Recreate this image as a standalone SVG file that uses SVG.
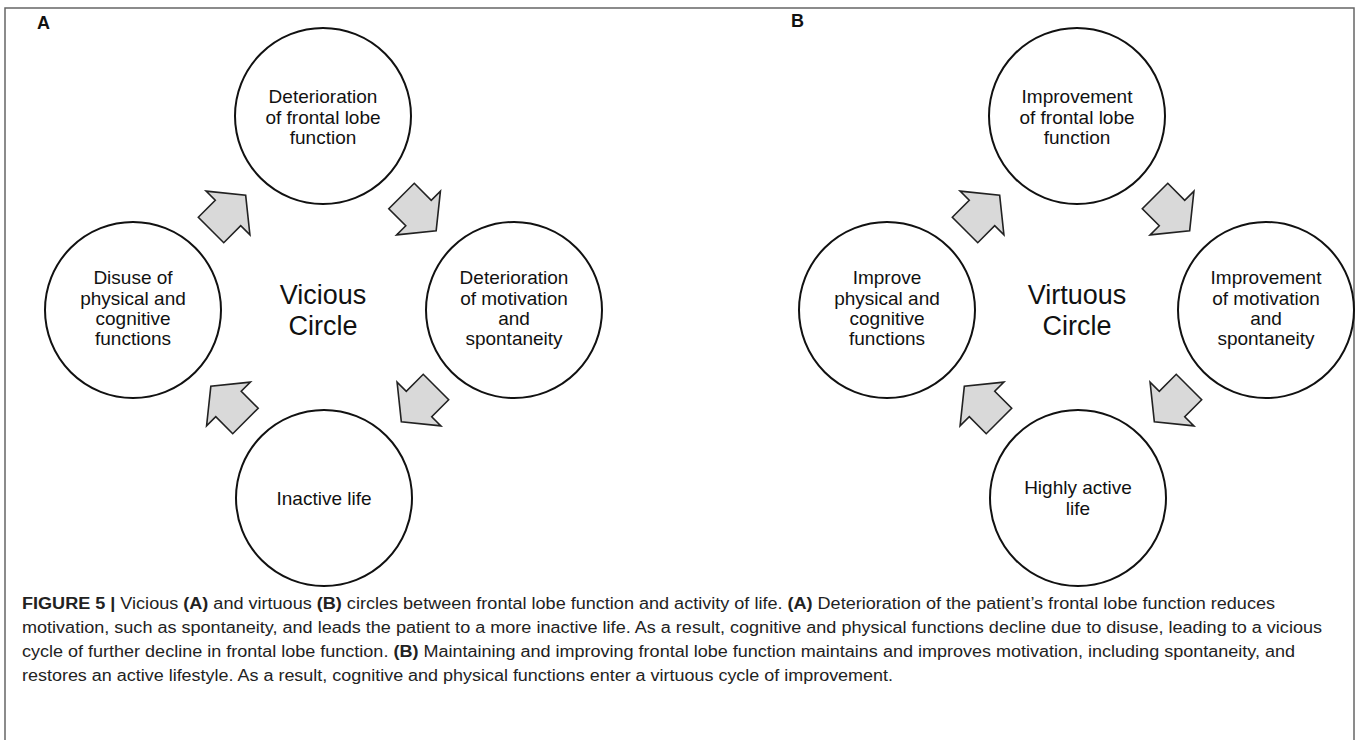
<svg xmlns="http://www.w3.org/2000/svg" xmlns:xlink="http://www.w3.org/1999/xlink" width="1357" height="740" viewBox="0 0 1357 740">
<style>
.c{fill:#fff;stroke:#111;stroke-width:2}
.t{font-family:"Liberation Sans",Arial,sans-serif;font-size:19px;fill:#111;text-anchor:middle}
.big{font-family:"Liberation Sans",Arial,sans-serif;font-size:27px;fill:#111;text-anchor:middle}
.lab{font-family:"Liberation Sans",Arial,sans-serif;font-size:18px;font-weight:bold;fill:#111}
.cap{font-family:"Liberation Sans Narrow","Liberation Sans",Arial,sans-serif;font-size:16px;fill:#222}
.b{font-weight:bold}
.arr{fill:#d9d9d9;stroke:#222;stroke-width:1.6;stroke-linejoin:miter}
</style>
<defs>
<polygon id="arrow" points="-24,-18 0,-18 0,-31 25,0 0,31 0,18 -24,18"/>
</defs>
<rect x="5" y="8" width="1349" height="760" fill="#fff" stroke="#666" stroke-width="1.5"/>
<text class="lab" x="37" y="29">A</text>
<text class="lab" x="791" y="27">B</text>

<g id="a-top"><circle class="c" cx="323" cy="116" r="88"/>
<text class="t" x="323" y="103">Deterioration</text><text class="t" x="323" y="124">of frontal lobe</text><text class="t" x="323" y="144">function</text></g>
<g id="a-right"><circle class="c" cx="514" cy="310" r="88"/>
<text class="t" x="514" y="284">Deterioration</text><text class="t" x="514" y="305">of motivation</text><text class="t" x="514" y="325">and</text><text class="t" x="514" y="345">spontaneity</text></g>
<g id="a-bottom"><circle class="c" cx="324" cy="498" r="88"/>
<text class="t" x="324" y="505">Inactive life</text></g>
<g id="a-left"><circle class="c" cx="133" cy="310" r="88"/>
<text class="t" x="133" y="284">Disuse of</text><text class="t" x="133" y="305">physical and</text><text class="t" x="133" y="325">cognitive</text><text class="t" x="133" y="345">functions</text></g>
<g id="a-center"><text class="big" x="323" y="304">Vicious</text><text class="big" x="323" y="335">Circle</text></g>

<g id="b-top"><circle class="c" cx="1077" cy="116" r="88"/>
<text class="t" x="1077" y="103">Improvement</text><text class="t" x="1077" y="124">of frontal lobe</text><text class="t" x="1077" y="144">function</text></g>
<g id="b-right"><circle class="c" cx="1266" cy="310" r="88"/>
<text class="t" x="1266" y="284">Improvement</text><text class="t" x="1266" y="305">of motivation</text><text class="t" x="1266" y="325">and</text><text class="t" x="1266" y="345">spontaneity</text></g>
<g id="b-bottom"><circle class="c" cx="1078" cy="498" r="88"/>
<text class="t" x="1078" y="494">Highly active</text><text class="t" x="1078" y="515">life</text></g>
<g id="b-left"><circle class="c" cx="887" cy="310" r="88"/>
<text class="t" x="887" y="284">Improve</text><text class="t" x="887" y="305">physical and</text><text class="t" x="887" y="325">cognitive</text><text class="t" x="887" y="345">functions</text></g>
<g id="b-center"><text class="big" x="1077" y="304">Virtuous</text><text class="big" x="1077" y="335">Circle</text></g>

<g id="connectors">
<use xlink:href="#arrow" class="arr" transform="translate(228,213) rotate(-45)"/>
<use xlink:href="#arrow" class="arr" transform="translate(418.5,213) rotate(45)"/>
<use xlink:href="#arrow" class="arr" transform="translate(419,404) rotate(135)"/>
<use xlink:href="#arrow" class="arr" transform="translate(228.5,404) rotate(-135)"/>
<use xlink:href="#arrow" class="arr" transform="translate(982,213) rotate(-45)"/>
<use xlink:href="#arrow" class="arr" transform="translate(1172,213) rotate(45)"/>
<use xlink:href="#arrow" class="arr" transform="translate(1172,404) rotate(135)"/>
<use xlink:href="#arrow" class="arr" transform="translate(982,404) rotate(-135)"/>
</g>

<g id="caption">
<text class="cap" x="22" y="609" textLength="1253" lengthAdjust="spacingAndGlyphs"><tspan class="b">FIGURE 5 |</tspan> Vicious <tspan class="b">(A)</tspan> and virtuous <tspan class="b">(B)</tspan> circles between frontal lobe function and activity of life. <tspan class="b">(A)</tspan> Deterioration of the patient’s frontal lobe function reduces</text>
<text class="cap" x="22" y="633" textLength="1300" lengthAdjust="spacingAndGlyphs">motivation, such as spontaneity, and leads the patient to a more inactive life. As a result, cognitive and physical functions decline due to disuse, leading to a vicious</text>
<text class="cap" x="22" y="657" textLength="1273" lengthAdjust="spacingAndGlyphs">cycle of further decline in frontal lobe function. <tspan class="b">(B)</tspan> Maintaining and improving frontal lobe function maintains and improves motivation, including spontaneity, and</text>
<text class="cap" x="22" y="681" textLength="871" lengthAdjust="spacingAndGlyphs">restores an active lifestyle. As a result, cognitive and physical functions enter a virtuous cycle of improvement.</text>
</g>
</svg>
